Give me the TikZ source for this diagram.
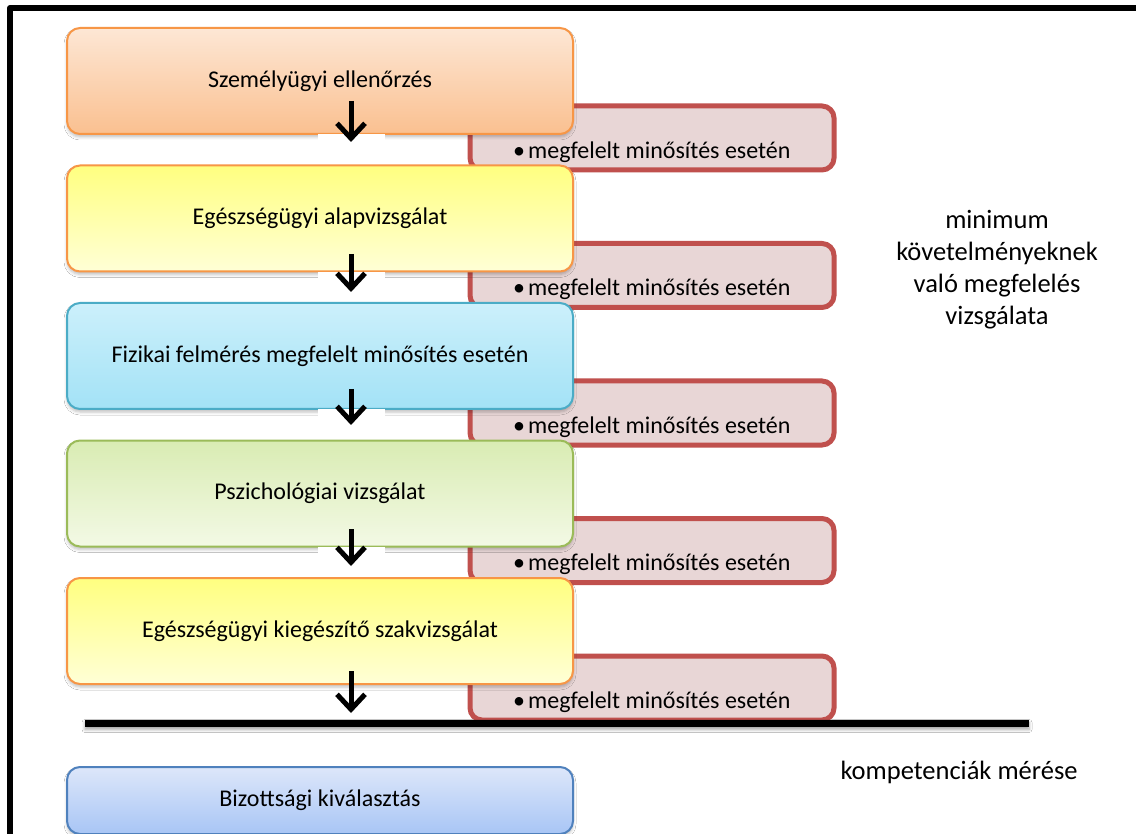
\documentclass[tikz,border=0pt]{standalone}
\usepackage{fontspec}
\setmainfont{Carlito}
\usetikzlibrary{arrows.meta,shadows.blur}

% stage colours
\definecolor{orangeTop}{HTML}{FDE7D5}
\definecolor{orangeBot}{HTML}{FAC090}
\definecolor{orangeLine}{HTML}{F79646}
\definecolor{yellowTop}{HTML}{FFFF80}
\definecolor{yellowBot}{HTML}{FFFFD6}
\definecolor{cyanTop}{HTML}{CCF0FB}
\definecolor{cyanBot}{HTML}{A3E2F6}
\definecolor{cyanLine}{HTML}{4BACC6}
\definecolor{greenTop}{HTML}{D9ECB3}
\definecolor{greenBot}{HTML}{F3F9E5}
\definecolor{greenLine}{HTML}{9BBB59}
\definecolor{blueTop}{HTML}{DDE7FA}
\definecolor{blueBot}{HTML}{A8C5F5}
\definecolor{blueLine}{HTML}{4F81BD}
\definecolor{passFill}{HTML}{E8D6D6}
\definecolor{passLine}{HTML}{C0504D}

\tikzset{
  stagebox/.style={rounded corners=13pt, line width=2pt, anchor=north west,
    minimum width=506pt, minimum height=106pt, inner sep=0pt,
    font=\fontsize{24}{29}\selectfont,
    blur shadow={shadow xshift=0pt, shadow yshift=-3pt,
      shadow blur radius=3pt, shadow opacity=25}},
  orangestage/.style={stagebox, draw=orangeLine, top color=orangeTop, bottom color=orangeBot},
  yellowstage/.style={stagebox, draw=orangeLine, top color=yellowTop, bottom color=yellowBot},
  cyanstage/.style={stagebox, draw=cyanLine, top color=cyanTop, bottom color=cyanBot},
  greenstage/.style={stagebox, draw=greenLine, top color=greenTop, bottom color=greenBot},
  bluestage/.style={stagebox, draw=blueLine, top color=blueTop, bottom color=blueBot,
    minimum height=67pt},
  passbox/.style={rounded corners=12pt, line width=5pt, draw=passLine, fill=passFill,
    anchor=north west, minimum width=364pt, minimum height=64pt, inner sep=0pt},
  passtext/.style={anchor=west, inner sep=0pt, font=\fontsize{24}{29}\selectfont},
  sidelabel/.style={align=center, inner sep=0pt, font=\fontsize{26.5}{32}\selectfont},
  arrowgap/.style={fill=white},
  flowarrow/.style={line width=5pt, -{Straight Barb[length=15pt,width=28pt]}}
}

\begin{document}
\begin{tikzpicture}[x=1pt,y=-1pt]
\useasboundingbox (0,0) rectangle (1136,834);
\fill[white] (0,0) rectangle (1136,834);
\begin{scope}
\clip (0,0) rectangle (1136,834);

% outer frame, open towards the right and the bottom
\draw[line width=6pt, line join=round] (10,860) -- (10,8) -- (1160,8);

% side notes for each passed stage
\foreach \i/\t in {1/101, 2/238.5, 3/376, 4/513.5, 5/651} {
  \node[passbox] (pass\i) at (467.5,\t+2.5) {};
  \node[passtext] (passlabel\i) at (513,\t+51) {•\hspace{3pt}megfelelt minősítés esetén};
}

% selection stages
\node[orangestage] (s1) at (66,27)    {Személyügyi ellenőrzés};
\node[yellowstage] (s2) at (66,164.5) {Egészségügyi alapvizsgálat};
\node[cyanstage]   (s3) at (66,302)   {Fizikai felmérés megfelelt minősítés esetén};
\node[greenstage]  (s4) at (66,439.5) {Pszichológiai vizsgálat};
\node[yellowstage] (s5) at (66,577)   {Egészségügyi kiegészítő szakvizsgálat};
\node[bluestage]   (s6) at (66,766)   {Bizottsági kiválasztás};

% dividing rule between the two phases
\node[fill=black, minimum width=944pt, minimum height=7pt, inner sep=0pt,
  blur shadow={shadow xshift=0pt, shadow yshift=-3pt, shadow blur radius=3pt, shadow opacity=35}]
  (divider) at (557,723) {};

% phase labels
\node[sidelabel] (minreq) at (997,270) {minimum\\követelményeknek\\való megfelelés\\vizsgálata};
\node[sidelabel] (comp) at (959,772) {kompetenciák mérése};

% white patches under the arrows
\fill[arrowgap] (318,134.5) rectangle (385,163);
\fill[arrowgap] (318,272) rectangle (385,300.5);
\fill[arrowgap] (318,409.5) rectangle (385,438);
\fill[arrowgap] (318,547) rectangle (385,575.5);

% arrow end points
\coordinate (a1s) at (351,101); \coordinate (a1e) at (351,142);
\coordinate (a2s) at (351,254); \coordinate (a2e) at (351,292);
\coordinate (a3s) at (351,389); \coordinate (a3e) at (351,425);
\coordinate (a4s) at (351,529); \coordinate (a4e) at (351,566);
\coordinate (a5s) at (351,671); \coordinate (a5e) at (351,713);

\draw[flowarrow] (a1s) -- (a1e);
\draw[flowarrow] (a2s) -- (a2e);
\draw[flowarrow] (a3s) -- (a3e);
\draw[flowarrow] (a4s) -- (a4e);
\draw[flowarrow] (a5s) -- (a5e);
\end{scope}
\end{tikzpicture}
\end{document}
